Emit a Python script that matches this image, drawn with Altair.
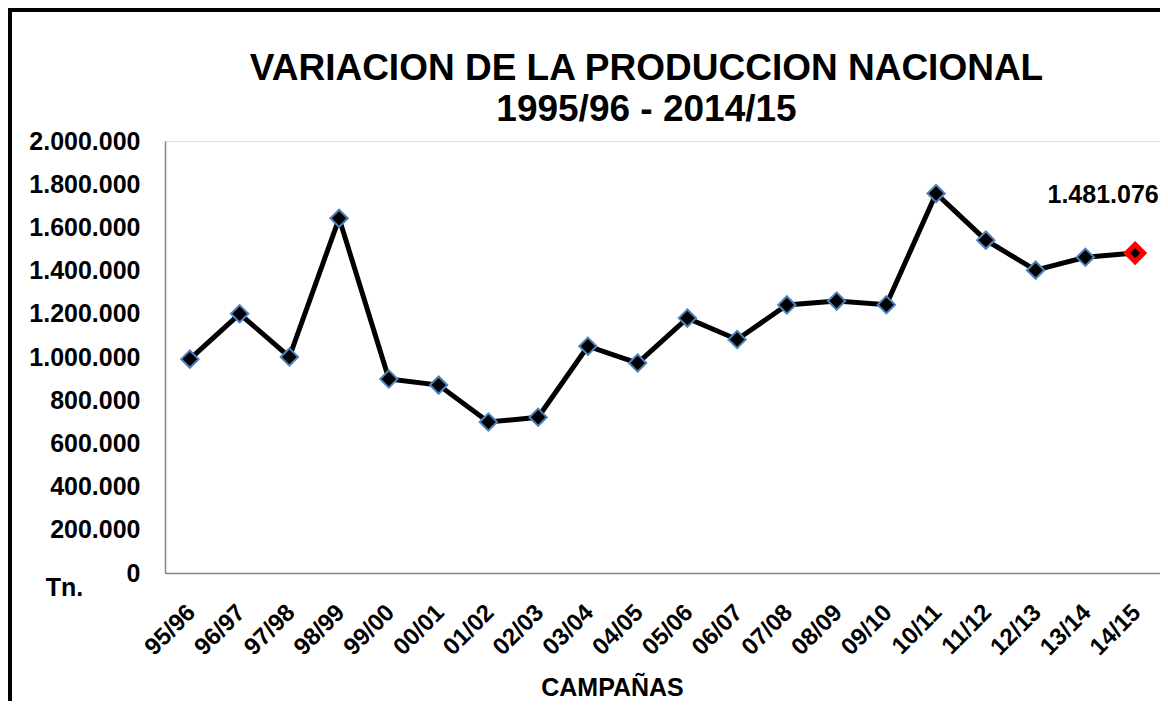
import altair as alt
import pandas as pd

campaigns = ["95/96", "96/97", "97/98", "98/99", "99/00", "00/01", "01/02", "02/03",
             "03/04", "04/05", "05/06", "06/07", "07/08", "08/09", "09/10", "10/11",
             "11/12", "12/13", "13/14", "14/15"]
production = [990000, 1200000, 1000000, 1642000, 898000, 870000, 699000, 721000,
              1050000, 972000, 1180000, 1081000, 1241000, 1259000, 1242000, 1757000,
              1541000, 1402000, 1462000, 1481076]
highlight = [False] * 19 + [True]

df = pd.DataFrame({"campana": campaigns, "tn": production, "last": highlight})

FONT = "Liberation Sans"

x_enc = alt.X(
    "campana:N",
    sort=campaigns,
    scale=alt.Scale(type="point", padding=0.5),
    axis=alt.Axis(
        title="CAMPAÑAS", titleFontSize=25, titleFont=FONT, titleFontWeight="bold",
        titleColor="black", titleX=447, titleY=114, titleAnchor="middle",
        titleBaseline="middle",
        labelAngle=-45, labelFont=FONT, labelFontSize=24, labelFontWeight="bold",
        labelColor="black", labelPadding=27, labelOffset=-7, ticks=False,
        domainColor="#868686", domainWidth=1.5, grid=False,
    ),
)
y_enc = alt.Y(
    "tn:Q",
    scale=alt.Scale(domain=[0, 2000000], nice=False),
    axis=alt.Axis(
        values=[0, 200000, 400000, 600000, 800000, 1000000, 1200000, 1400000,
                1600000, 1800000, 2000000],
        format=",d", title="Tn.", titleAngle=0, titleX=-101, titleY=446,
        titleAlign="center", titleBaseline="middle", titleFont=FONT,
        titleFontSize=25, titleFontWeight="bold", titleColor="black",
        labelFont=FONT, labelFontSize=25, labelFontWeight="bold", labelColor="black",
        labelPadding=25, ticks=False, domainColor="#868686", domainWidth=1.5,
        grid=False,
    ),
)

base = alt.Chart(df)

frame = alt.Chart(pd.DataFrame({"a": [0]})).mark_rect(
    fillOpacity=0, stroke="black", strokeWidth=4
).encode(
    x=alt.value(-155), x2=alt.value(1400), y=alt.value(-131), y2=alt.value(900)
)

line = base.mark_line(color="black", strokeWidth=5).encode(x=x_enc, y=y_enc)

points = base.transform_filter("!datum.last").mark_point(
    shape="diamond", filled=True, fill="black", stroke="#4F81BD",
    strokeWidth=2, size=300, opacity=1
).encode(x=x_enc, y=y_enc)

last_point = base.transform_filter("datum.last").mark_point(
    shape="diamond", filled=True, fill="black", stroke="#FF0000",
    strokeWidth=5, size=290, opacity=1
).encode(x=x_enc, y=y_enc)

label = base.transform_filter("datum.last").mark_text(
    font=FONT, fontSize=25, fontWeight="bold", color="black",
    dx=-32, dy=-58
).encode(x=x_enc, y=y_enc, text=alt.Text("tn:Q", format=",d"))

chart = alt.layer(frame, line, points, last_point, label).properties(
    width=995,
    height=432,
    autosize=alt.AutoSizeParams(type="none"),
    padding={"left": 157, "top": 133, "right": 0, "bottom": 128},
    title=alt.Title(
        ["VARIACION DE LA PRODUCCION NACIONAL", "1995/96 - 2014/15"],
        font=FONT, fontSize=37, fontWeight="bold", color="black",
        lineHeight=41, anchor="middle", frame="group", dx=-16, dy=135,
        offset=14,
    ),
).configure_view(strokeWidth=0).configure(
    locale={"number": {"decimal": ",", "thousands": ".", "grouping": [3],
                       "currency": ["", ""]}}
)

chart.save("out.html", embed_options={"renderer": "svg", "actions": False})
